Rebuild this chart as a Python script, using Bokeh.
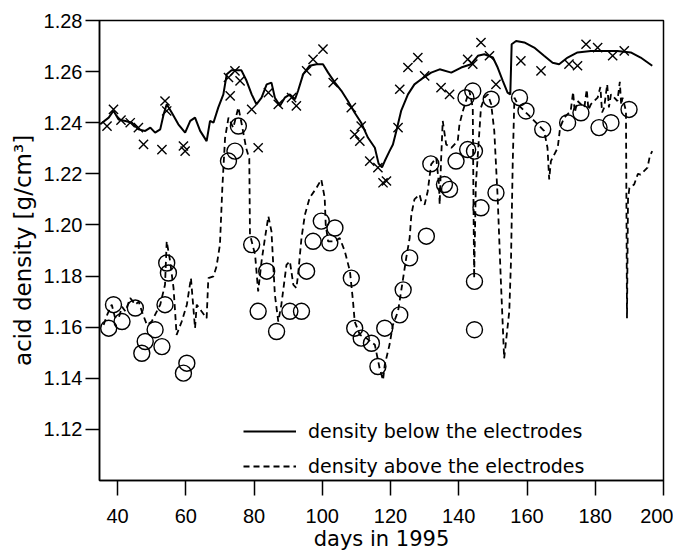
from bokeh.plotting import figure
from bokeh.models import Range1d, FixedTicker, PrintfTickFormatter, Legend, LegendItem
from bokeh.embed import file_html
from bokeh.resources import INLINE

# ---- data ----
x_tick_values = [40, 60, 80, 100, 120, 140, 160, 180, 200]
y_tick_values = [1.12, 1.14, 1.16, 1.18, 1.20, 1.22, 1.24, 1.26, 1.28]

solid_days = [34.9, 37.4, 38.8, 40.3, 42.3, 44.2, 46.1, 48.1, 49.6, 51.0, 52.5, 53.5, 54.4, 55.9,
              57.8, 59.8, 61.3, 62.7, 64.2, 66.1, 67.1, 68.1, 69.5, 71.0, 72.0, 73.4, 76.3, 77.8,
              79.3, 80.7, 82.2, 83.7, 85.1, 86.1, 87.6, 89.0, 90.5, 92.0, 92.9, 94.4, 96.3, 98.3,
              100.2, 101.7, 103.7, 105.6, 107.5, 109.5, 111.4, 113.4, 115.4, 116.5, 117.5, 118.3,
              119.7, 120.7, 121.7, 123.1, 125.1, 127.0, 129.0, 131.9, 134.4, 137.8, 140.7, 143.6,
              145.6, 147.5, 150.0, 151.4, 152.9, 154.3, 155.1, 155.5, 156.8, 159.2, 162.1, 165.0,
              167.5, 169.4, 171.9, 174.8, 178.7, 182.6, 186.5, 190.4, 193.3, 196.7]
solid_vals = [1.2394, 1.2420, 1.2447, 1.2413, 1.2407, 1.2400, 1.2374, 1.2368, 1.2381, 1.2361, 1.2374,
              1.2433, 1.2472, 1.2439, 1.2394, 1.2361, 1.2407, 1.2420, 1.2368, 1.2328, 1.2407, 1.2400,
              1.2459, 1.2511, 1.2590, 1.2605, 1.2605, 1.2564, 1.2511, 1.2472, 1.2498, 1.2550, 1.2557,
              1.2498, 1.2466, 1.2498, 1.2511, 1.2492, 1.2525, 1.2590, 1.2623, 1.2629, 1.2629, 1.2596,
              1.2557, 1.2525, 1.2485, 1.2439, 1.2400, 1.2341, 1.2302, 1.2240, 1.2225, 1.2250, 1.2289,
              1.2315, 1.2368, 1.2446, 1.2511, 1.2550, 1.2570, 1.2596, 1.2609, 1.2596, 1.2616, 1.2629,
              1.2662, 1.2668, 1.2655, 1.2616, 1.2564, 1.2518, 1.2511, 1.2707, 1.2720, 1.2714, 1.2694,
              1.2662, 1.2635, 1.2629, 1.2655, 1.2675, 1.2681, 1.2681, 1.2681, 1.2675, 1.2655, 1.2623]

dashed_days = [35.9, 37.0, 38.3, 39.2, 40.3, 41.3, 42.3, 43.7, 45.2, 46.2, 47.1, 48.6, 50.0, 51.5,
               52.5, 53.9, 54.4, 55.4, 56.4, 57.3, 58.8, 60.3, 61.5, 62.7, 63.2, 64.6, 66.1, 66.6,
               68.1, 69.0, 70.0, 70.7, 71.5, 72.5, 73.9, 75.4, 76.3, 77.7, 78.6, 78.8, 80.3, 81.2,
               82.2, 83.2, 84.2, 85.1, 86.1, 87.1, 88.0, 89.5, 90.5, 91.5, 92.4, 92.9, 93.9, 94.9,
               96.3, 98.3, 99.7, 100.7, 101.0, 101.7, 103.7, 105.1, 106.6, 108.1, 109.0, 109.5,
               111.0, 112.9, 115.4, 116.8, 117.8, 118.3, 119.7, 120.7, 122.2, 123.1, 124.6, 125.6,
               126.1, 127.0, 128.5, 129.0, 130.0, 130.9, 131.9, 133.4, 134.2, 134.4, 134.8, 135.3,
               136.3, 137.8, 139.7, 140.2, 141.2, 142.1, 143.1, 144.1, 144.3, 144.5, 145.0, 146.5,
               147.5, 148.5, 149.5, 150.4, 150.9, 151.4, 152.3, 153.3, 154.8, 155.3, 155.8, 156.3,
               157.3, 159.2, 161.2, 163.1, 165.0, 166.0, 166.5, 167.0, 169.0, 169.7, 170.9, 172.8,
               173.5, 174.0, 174.8, 176.8, 177.5, 178.0, 178.7, 180.7, 181.5, 182.0, 182.6, 183.5,
               184.0, 184.6, 186.5, 187.2, 187.6, 188.0, 189.0, 189.3, 189.6, 190.0, 191.4, 192.5,
               193.3, 195.3, 196.0, 196.7]
dashed_vals = [1.1609, 1.1650, 1.1688, 1.1640, 1.1635, 1.1680, 1.1662, 1.1714, 1.1688, 1.1700,
               1.1662, 1.1609, 1.1622, 1.1662, 1.1688, 1.1766, 1.1936, 1.1858, 1.1753, 1.1570,
               1.1622, 1.1688, 1.1792, 1.1596, 1.1688, 1.1662, 1.1635, 1.1792, 1.1799, 1.1838,
               1.1923, 1.2145, 1.2340, 1.2420, 1.2380, 1.2460, 1.2400, 1.2300, 1.2260, 1.1962,
               1.1884, 1.1740, 1.1858, 1.1949, 1.2034, 1.1975, 1.1727, 1.1622, 1.1688, 1.1844,
               1.1858, 1.1766, 1.1753, 1.1805, 1.1949, 1.2040, 1.2106, 1.2145, 1.2178, 1.2106,
               1.2001, 1.1936, 1.1936, 1.1949, 1.1897, 1.1819, 1.1701, 1.1622, 1.1570, 1.1557,
               1.1531, 1.1439, 1.1393, 1.1452, 1.1531, 1.1609, 1.1662, 1.1740, 1.1871, 1.1949,
               1.2040, 1.2100, 1.2119, 1.2093, 1.2080, 1.2132, 1.2237, 1.2263, 1.2158, 1.2080,
               1.2250, 1.2407, 1.2315, 1.2302, 1.2328, 1.2394, 1.2446, 1.2485, 1.2525, 1.2459,
               1.2106, 1.1792, 1.2158, 1.2459, 1.2498, 1.2511, 1.2472, 1.2368, 1.2237, 1.2106,
               1.1792, 1.1478, 1.1662, 1.1858, 1.2237, 1.2498, 1.2472, 1.2446, 1.2420, 1.2394,
               1.2368, 1.2302, 1.2178, 1.2250, 1.2302, 1.2381, 1.2420, 1.2446, 1.2520, 1.2440,
               1.2485, 1.2459, 1.2530, 1.2450, 1.2472, 1.2498, 1.2540, 1.2440, 1.2459, 1.2550,
               1.2460, 1.2511, 1.2485, 1.2560, 1.2470, 1.2498, 1.2446, 1.1635, 1.2100, 1.2145,
               1.2158, 1.2200, 1.2197, 1.2224, 1.2270, 1.2289]

cross_days = [36.9, 38.8, 41.0, 43.7, 46.1, 47.6, 53.0, 53.9, 54.4, 59.3, 59.8, 72.5, 73.0, 74.4,
              75.9, 79.3, 81.2, 84.2, 87.1, 91.0, 92.4, 95.4, 97.3, 100.2, 103.2, 108.5, 109.5,
              111.0, 111.4, 113.9, 116.3, 117.8, 118.8, 122.2, 122.7, 125.1, 128.0, 130.0, 134.8,
              137.3, 142.6, 144.1, 146.5, 149.0, 150.9, 158.2, 164.1, 172.3, 174.8, 177.3, 180.7,
              185.1, 188.5]
cross_vals = [1.2387, 1.2452, 1.2410, 1.2400, 1.2381, 1.2315, 1.2295, 1.2485, 1.2446, 1.2309,
              1.2289, 1.2577, 1.2505, 1.2603, 1.2564, 1.2452, 1.2302, 1.2518, 1.2472, 1.2498,
              1.2466, 1.2603, 1.2648, 1.2688, 1.2557, 1.2459, 1.2354, 1.2328, 1.2387, 1.2250,
              1.2224, 1.2165, 1.2172, 1.2381, 1.2531, 1.2616, 1.2655, 1.2583, 1.2537, 1.2511,
              1.2648, 1.2629, 1.2714, 1.2662, 1.2550, 1.2642, 1.2603, 1.2629, 1.2623, 1.2707,
              1.2694, 1.2662, 1.2681]

circle_days = [37.4, 38.8, 41.3, 45.2, 47.1, 48.1, 51.0, 53.0, 53.9, 54.4, 54.9, 59.3, 60.3, 72.5,
               74.4, 75.4, 79.3, 81.2, 83.7, 86.6, 90.5, 93.9, 95.4, 97.3, 99.7, 102.2, 103.7,
               108.5, 109.5, 111.4, 114.4, 116.3, 118.3, 122.7, 123.7, 125.6, 130.5, 131.8, 135.8,
               137.3, 139.2, 142.1, 142.6, 144.1, 144.6, 144.6, 144.6, 146.5, 149.5, 150.9, 157.8,
               159.7, 164.6, 171.9, 175.8, 181.1, 184.6, 189.9]
circle_vals = [1.1596, 1.1688, 1.1622, 1.1675, 1.1498, 1.1544, 1.1590, 1.1524, 1.1688, 1.1851,
               1.1812, 1.1420, 1.1459, 1.2250, 1.2289, 1.2387, 1.1923, 1.1662, 1.1819, 1.1583,
               1.1662, 1.1662, 1.1819, 1.1936, 1.2015, 1.1930, 1.1988, 1.1792, 1.1596, 1.1557,
               1.1537, 1.1446, 1.1596, 1.1648, 1.1746, 1.1871, 1.1956, 1.2239, 1.2158, 1.2139,
               1.2250, 1.2498, 1.2295, 1.2524, 1.2289, 1.1779, 1.1590, 1.2067, 1.2492, 1.2126,
               1.2498, 1.2446, 1.2374, 1.2400, 1.2439, 1.2381, 1.2400, 1.2452]

legend_labels = ["density below the electrodes", "density above the electrodes"]
x_label = "days in 1995"
y_label = "acid density [g/cm\u00b3]"

x_start, x_end = 34.7, 200
y_start, y_end = 1.10, 1.28

# ---- figure ----
p = figure(frame_width=564, frame_height=460,
           x_range=Range1d(x_start, x_end), y_range=Range1d(y_start, y_end),
           output_backend="svg", toolbar_location=None,
           min_border_left=99, min_border_top=20, min_border_right=10, min_border_bottom=5)

p.grid.visible = False
p.outline_line_color = "black"
p.outline_line_width = 1.5
p.outline_line_alpha = 1.0
p.background_fill_color = "white"
p.border_fill_color = "white"

solid = p.line(solid_days, solid_vals, line_color="black", line_width=2.0)
dashed = p.line(dashed_days, dashed_vals, line_color="black", line_width=1.8, line_dash="6 4")
p.scatter(cross_days, cross_vals, marker="x", size=13, line_color="black", line_width=1.4)
p.scatter(circle_days, circle_vals, marker="circle", size=16, fill_color=None,
          line_color="black", line_width=1.4)

tick_font = "Liberation Sans"
label_font = "DejaVu Sans"

xa = p.xaxis[0]
xa.ticker = FixedTicker(ticks=x_tick_values)
xa.axis_label = x_label
xa.major_tick_out = 15
xa.major_tick_in = 0
xa.minor_tick_out = 0
xa.minor_tick_in = 0
xa.major_label_standoff = 13
xa.axis_label_standoff = 1

ya = p.yaxis[0]
ya.ticker = FixedTicker(ticks=y_tick_values)
ya.formatter = PrintfTickFormatter(format="%.2f")
ya.axis_label = y_label
ya.major_tick_out = 14
ya.major_tick_in = 0
ya.minor_tick_out = 0
ya.minor_tick_in = 0
ya.major_label_standoff = 3
ya.axis_label_standoff = 5

for ax in (xa, ya):
    ax.axis_line_width = 1.5
    ax.major_tick_line_width = 1.5
    ax.axis_line_color = "black"
    ax.major_tick_line_color = "black"
    ax.major_label_text_font = tick_font
    ax.major_label_text_font_size = "20px"
    ax.major_label_text_color = "black"
    ax.axis_label_text_font = label_font
    ax.axis_label_text_font_style = "normal"
    ax.axis_label_text_color = "black"

xa.axis_label_text_font_size = "21px"
ya.axis_label_text_font_size = "23px"

legend = Legend(items=[LegendItem(label=legend_labels[0], renderers=[solid]),
                       LegendItem(label=legend_labels[1], renderers=[dashed])],
                location=(144, 3))
legend.border_line_alpha = 0
legend.background_fill_alpha = 0
legend.padding = 0
legend.margin = 0
legend.spacing = 13
legend.glyph_width = 53
legend.glyph_height = 20
legend.label_height = 20
legend.label_standoff = 12
legend.label_text_font = label_font
legend.label_text_font_size = "19px"
legend.label_text_color = "black"
p.add_layout(legend)

open("out.html", "w").write(file_html(p, INLINE))
